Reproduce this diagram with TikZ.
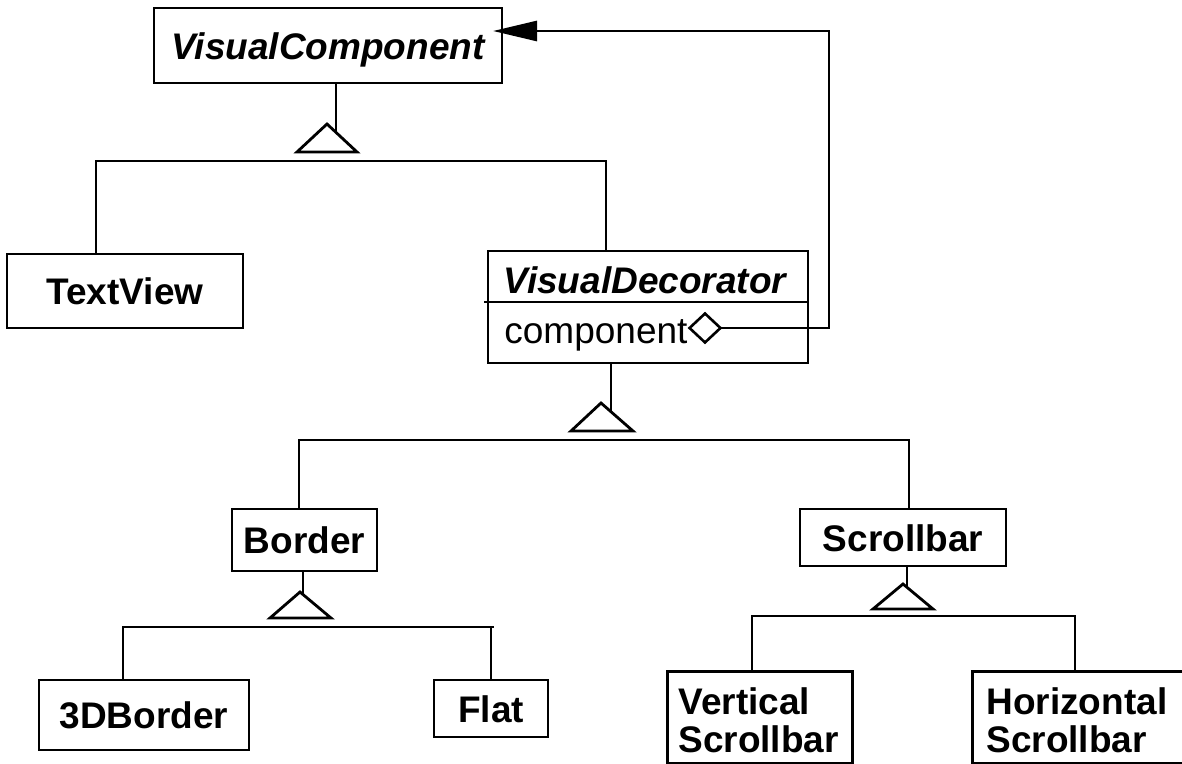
\documentclass[tikz,border=0pt]{standalone}
\usepackage{fontspec}
\setmainfont{Liberation Sans}
\usetikzlibrary{arrows.meta,shapes.geometric,calc}
\begin{document}
\begin{tikzpicture}[x=1pt,y=-1pt,line width=2.8pt,
  lbl/.style={font=\fontsize{37}{38}\selectfont\bfseries},
  cls/.style={draw,rectangle,inner sep=0pt,text height=27pt,text depth=0pt,lbl},
  gen/.style={draw,fill=white,line join=miter},
  conn/.style={draw}]
\useasboundingbox (0,0) rectangle (1182,763);
% classes
\node[cls,minimum width=348pt,minimum height=75pt] (vc) at (328,45.5) {\itshape VisualComponent};
\node[cls,minimum width=236pt,minimum height=74pt] (tv) at (125,291) {TextView};
\node[draw,rectangle,inner sep=0pt,minimum width=320pt,minimum height=112pt] (vd) at (648,307) {};
\node[lbl,inner sep=0pt,text height=27pt,text depth=0pt] (vdt) at (645,280) {\itshape VisualDecorator};
\node[anchor=base west,inner sep=0pt,font=\fontsize{37}{38}\selectfont] (comp) at (503,343) {component};
\node[cls,minimum width=145pt,minimum height=62pt] (border) at (304.5,540) {Border};
\node[cls,minimum width=206pt,minimum height=57pt] (scroll) at (903,537.5) {Scrollbar};
\node[cls,minimum width=210pt,minimum height=70pt] (b3d) at (144,715) {3DBorder};
\node[cls,minimum width=114pt,minimum height=57pt] (flat) at (491,708.5) {Flat};
\node[draw,rectangle,inner sep=0pt,anchor=north west,minimum width=185pt,minimum height=92pt] (vs) at (666,670) {};
\node[lbl,anchor=north west,inner sep=0pt,align=left] (vst) at (677,686) {Vertical\\Scrollbar};
\node[draw,rectangle,inner sep=0pt,anchor=north west,minimum width=260pt,minimum height=92pt] (hs) at (971,670) {};
\node[lbl,anchor=north west,inner sep=0pt,align=left] (hst) at (985,686) {Horizontal\\Scrollbar};
% divider in VisualDecorator
\draw (484,302) -- (vd.east |- 0,302);
% aggregation
\coordinate (arrtip) at (493,31);
\draw[-{Triangle[length=44pt,width=20pt]}] (705,328) -- (829,328) -- (829,31) -- (arrtip);
\node[draw,diamond,fill=white,inner sep=0pt,minimum width=32pt,minimum height=30pt,line width=2.6pt] (dia) at (705,328) {};
% generalization 1
\draw (vc.south -| 336,0) -- (336,140);
\draw[gen] (327,124) -- (297,152) -- (357,152) -- cycle;
\draw (tv.north -| 96,0) -- (96,161) -- (606,161) -- (vd.north -| 606,0);
% generalization 2
\draw (vd.south -| 611,0) -- (611,420);
\draw[gen] (601,403) -- (571,431) -- (633,431) -- cycle;
\draw (border.north -| 299,0) -- (299,440) -- (909,440) -- (scroll.north -| 909,0);
% generalization 3
\draw (border.south -| 303,0) -- (303,605);
\draw[gen] (300,592) -- (270,618) -- (331,618) -- cycle;
\draw (b3d.north -| 123,0) -- (123,627) -- (494,627);
\draw (491,627) -- (flat.north -| 491,0);
% generalization 4
\draw (scroll.south -| 907,0) -- (907,598);
\draw[gen] (903,584) -- (873,609) -- (933,609) -- cycle;
\draw (vs.north -| 752,0) -- (752,616) -- (1075,616) -- (hs.north -| 1075,0);
\end{tikzpicture}
\end{document}
